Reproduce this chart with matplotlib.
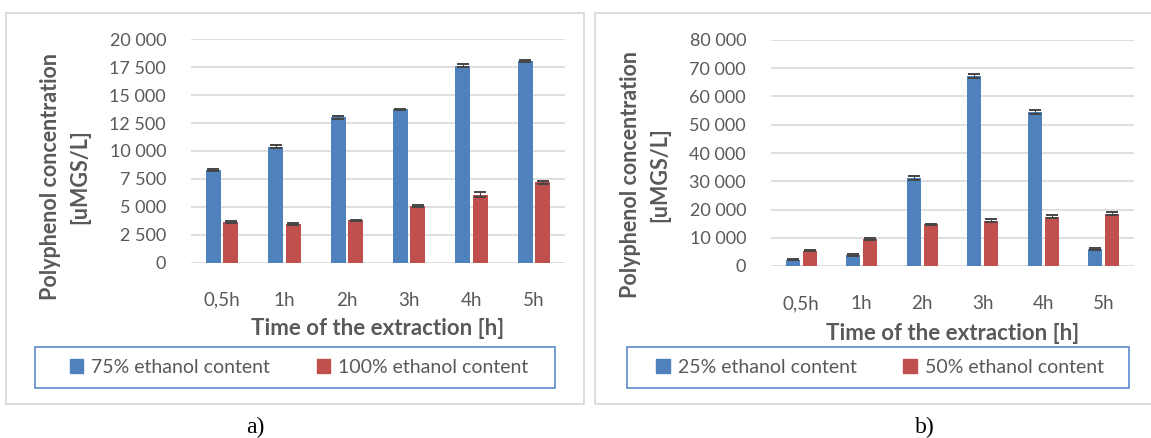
import numpy as np
import matplotlib
matplotlib.use("Agg")
from matplotlib import pyplot as plt
from matplotlib.patches import Rectangle, Patch

plt.rcParams['font.family'] = ['Lato', 'DejaVu Sans']

tiempos = ["0,5h", "1h", "2h", "3h", "4h", "5h"]

# panel a)
etanol_75 = [8300, 10400, 13000, 13750, 17650, 18050]
etanol_75_err = [60, 100, 120, 50, 170, 120]
etanol_100 = [3650, 3450, 3800, 5100, 6100, 7200]
etanol_100_err = [120, 60, 60, 110, 200, 120]

# panel b)
etanol_25 = [2300, 3900, 31200, 67200, 54500, 5900]
etanol_25_err = [300, 300, 700, 800, 600, 400]
etanol_50 = [5400, 9600, 14800, 16000, 17500, 18500]
etanol_50_err = [250, 300, 200, 600, 600, 500]

azul = "#4f81bd"
rojo = "#c0504d"
gris = "#595959"
W, H = 1151, 438

fig = plt.figure(figsize=(W / 100, H / 100), dpi=100)


def fx(px):
    return px / W


def fy(px):
    return 1 - px / H


def panel(ax, serie1, err1, serie2, err2, ymax, paso, ancho, ylab_xy, xlab_y):
    x = np.arange(len(tiempos))
    ax.bar(x - 0.14, serie1, width=ancho, color=azul, zorder=2)
    ax.bar(x + 0.14, serie2, width=ancho, color=rojo, zorder=2)
    cap = ancho * 62 * 0.72 / 2 * 0.85
    for xs, serie, err in [(x - 0.14, serie1, err1), (x + 0.14, serie2, err2)]:
        ax.errorbar(xs, serie, yerr=err, fmt='none', ecolor='#454545',
                    elinewidth=0.8, capsize=cap, capthick=1.4, zorder=3)
    ax.set_xlim(-0.5, len(tiempos) - 0.5)
    ax.set_ylim(0, ymax)
    ticks = np.arange(0, ymax + 1, paso)
    ax.set_yticks(ticks)
    ax.set_yticklabels([f"{t:,.0f}".replace(",", " ") for t in ticks])
    ax.set_xticks(x)
    ax.set_xticklabels(tiempos)
    ax.grid(axis='y', color='#d9d9d9', lw=1.2, zorder=0)
    ax.set_axisbelow(True)
    for s in ax.spines.values():
        s.set_visible(False)
    ax.tick_params(axis='y', length=0, pad=18, labelsize=13, labelcolor=gris)
    ax.tick_params(axis='x', length=0, pad=21, labelsize=13.5, labelcolor=gris)
    ax.set_xlabel("Time of the extraction [h]", fontsize=16, fontweight='bold', color=gris)
    ax.xaxis.set_label_coords(0.5, xlab_y)
    ax.xaxis.label.set_verticalalignment('center')
    ax.set_ylabel("Polyphenol concentration\n[uMGS/L]", fontsize=15.5, fontweight='bold',
                  color=gris, linespacing=1.5)
    ax.yaxis.set_label_coords(*ylab_xy)
    ax.yaxis.label.set_verticalalignment('center')


ax_a = fig.add_axes([fx(191), fy(262.7), fx(565 - 191), 223.4 / H])
panel(ax_a, etanol_75, etanol_75_err, etanol_100, etanol_100_err, 20000, 2500, 0.24,
      (-0.337, 0.384), -0.295)
ax_b = fig.add_axes([fx(771), fy(266), fx(1134 - 771), 226 / H])
panel(ax_b, etanol_25, etanol_25_err, etanol_50, etanol_50_err, 80000, 10000, 0.23,
      (-0.346, 0.405), -0.297)

# marcos de los paneles
fig.patches.append(Rectangle((fx(6), fy(404)), fx(584 - 6), (404 - 13) / H, transform=fig.transFigure,
                             fill=False, ec='#d9d9d9', lw=1.3))
fig.patches.append(Rectangle((fx(595), fy(404)), fx(1160 - 595), (404 - 13) / H, transform=fig.transFigure,
                             fill=False, ec='#d9d9d9', lw=1.3))

# cajas de leyenda
for x0, x1 in [(35, 555), (627, 1129)]:
    fig.patches.append(Rectangle((fx(x0), fy(388)), fx(x1 - x0), (388 - 347) / H,
                                 transform=fig.transFigure, fill=False, ec='#6a93d0', lw=1.3))

leyendas = [("75% ethanol content", "100% ethanol content", 299),
            ("25% ethanol content", "50% ethanol content", 880)]
for n1, n2, cx in leyendas:
    handles = [Patch(color=azul, label=n1), Patch(color=rojo, label=n2)]
    fig.legend(handles=handles, loc='center', bbox_to_anchor=(fx(cx), fy(367.5)), ncol=2,
               frameon=False, fontsize=14, handlelength=0.7, handleheight=0.7,
               handletextpad=0.4, columnspacing=2.4, labelcolor=gris)

fig.text(fx(255), fy(427), "a)", fontsize=17, family='Liberation Serif', ha='center', va='center')
fig.text(fx(925), fy(427), "b)", fontsize=17, family='Liberation Serif', ha='center', va='center')

fig.savefig("out.png", dpi=100)
